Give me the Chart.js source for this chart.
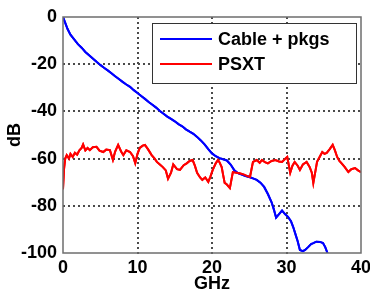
<!DOCTYPE html>
<html>
<head>
<meta charset="utf-8">
<script src="https://cdn.jsdelivr.net/npm/chart.js@4/dist/chart.umd.min.js"></script>
<style>
  html, body { margin: 0; padding: 0; background: #fff; }
  #wrap { width: 370px; height: 295px; }
</style>
</head>
<body>
<div id="wrap"><canvas id="chart" width="370" height="295"></canvas></div>
<script>
// series names
const seriesNames = ["Cable + pkgs", "PSXT"];

// Cable + pkgs (blue): frequency in GHz and loss in dB
const cableGHz = [0, 0.3, 0.6, 1.0, 1.5, 2.0, 2.5, 3, 3.5, 4, 4.5, 5, 5.5, 6, 6.5, 7, 7.5, 8, 8.5, 9, 9.5, 10,
  10.5, 11, 11.5, 12, 12.5, 13, 13.5, 14, 14.5, 15, 15.5, 16, 16.5, 17, 17.5, 18, 18.5, 19, 19.5, 20, 20.5,
  21, 21.5, 22, 22.5, 23, 23.5, 24, 24.5, 25, 25.5, 26, 26.5, 27, 27.5, 28, 28.3, 28.6, 29, 29.4, 29.8,
  30.2, 30.6, 30.9, 31.2, 31.5, 31.8, 32.2, 32.5, 32.9, 33.3, 33.6, 34, 34.5, 34.9, 35.2, 35.5];
const cableDB = [0, -2.5, -5, -7.5, -9.5, -11.5, -13, -14.8, -16.2, -17.6, -19, -20.3, -21.5, -22.6, -23.8,
  -25.1, -26.3, -27.5, -28.6, -29.6, -31, -32.2, -33.5, -34.7, -36, -37.2, -38.4, -39.8, -41, -42.2, -43.2,
  -44.2, -45.4, -46.3, -47.6, -48.6, -49.5, -50.8, -52.3, -54, -56, -57.8, -59, -59.8, -60.3, -60.8, -62.5,
  -65, -66.2, -66.8, -67.4, -67.8, -68.4, -69, -70.2, -72, -75, -78.5, -81.5, -85, -83.5, -82, -83.5,
  -84.7, -86.5, -89, -92, -95, -98.7, -99.2, -98.7, -97.5, -96.2, -95.8, -95.2, -95.3, -95.8, -97.5, -100];

// PSXT (red): frequency in GHz and crosstalk in dB
const psxtGHz = [0, 0.15, 0.3, 0.5, 0.8, 1.0, 1.3, 1.6, 1.9, 2.2, 2.5, 2.7, 3.0, 3.3, 3.6, 4.0, 4.5, 4.9,
  5.4, 5.8, 6.3, 6.7, 7.0, 7.4, 7.8, 8.1, 8.5, 9.0, 9.4, 9.7, 10.0, 10.3, 10.7, 11.0, 11.4, 11.9, 12.3,
  12.6, 13.0, 13.4, 13.8, 14.1, 14.5, 14.8, 15.3, 15.7, 16.2, 16.6, 17.0, 17.4, 17.7, 18.0, 18.4, 18.7,
  19.1, 19.5, 19.8, 20.1, 20.5, 20.8, 21.0, 21.3, 21.5, 21.7, 22.0, 22.4, 22.8, 23.3, 23.8, 24.3, 24.8,
  25.1, 25.5, 26.0, 26.4, 26.7, 27.1, 27.5, 28.0, 28.5, 29.0, 29.4, 29.8, 30.1, 30.5, 30.8, 31.1, 31.5,
  31.8, 32.2, 32.7, 33.1, 33.4, 33.6, 33.9, 34.1, 34.5, 34.8, 35.1, 35.4, 35.8, 36.2, 36.5, 36.8, 37.1,
  37.4, 37.8, 38.3, 38.7, 39.2, 39.6, 40];
const psxtDB = [-73, -64, -60, -58.5, -60, -58, -59.3, -57.5, -58.3, -56.5, -55.5, -54, -56.5, -55.5, -56.4,
  -55.2, -55, -56.6, -57.2, -56.2, -56.4, -60.5, -57, -54.2, -57, -58.5, -56.5, -57.2, -59, -62, -58,
  -55.5, -54.5, -54.2, -56, -58.5, -60, -61.4, -62.5, -63.6, -65, -68.5, -66, -62.5, -64.5, -64.8, -62.8,
  -62, -61, -60.6, -63, -66, -68, -69, -68, -69.9, -67.5, -64.8, -62, -60.6, -61.5, -63.6, -67, -70.3,
  -71, -72.5, -65.7, -66, -66.3, -66.8, -67.5, -67.8, -61.4, -60.6, -61.8, -60.6, -61.5, -62, -61, -60.6,
  -61.2, -61.4, -60.2, -59.3, -66, -63, -61.4, -63, -64.8, -62.5, -61.4, -63.5, -66, -70.3, -65, -61.4,
  -59, -57.2, -58, -57.6, -56, -54.2, -56.5, -59.3, -61, -62, -63.5, -65.7, -64.5, -64, -65, -65.7];

// axis ranges and tick spacing
const xMin = 0, xMax = 40, xStep = 10;
const yMin = -100, yMax = 0, yStep = 20;

function toPoints(xs, ys) {
  return xs.map((x, i) => ({ x: x, y: ys[i] }));
}

const fontFamily = "'Liberation Sans', Arial, sans-serif";

// dotted matlab-style grid at the tick values
function drawDotGrid(chart) {
  const ctx = chart.ctx;
  const a = chart.chartArea;
  const xs = chart.scales.x, ys = chart.scales.y;
  ctx.save();
  ctx.fillStyle = '#4a4a4a';
  for (let v = xMin + xStep; v < xMax; v += xStep) {
    const px = Math.round(xs.getPixelForValue(v));
    for (let y = Math.round(a.top); y < a.bottom; y += 5) {
      ctx.fillRect(px - 1, y, 2, 2);
    }
  }
  for (let v = yMin + yStep; v < yMax; v += yStep) {
    const py = Math.round(ys.getPixelForValue(v));
    for (let x = Math.round(a.left); x < a.right; x += 5) {
      ctx.fillRect(x, py - 1, 2, 2);
    }
  }
  ctx.restore();
}

// grid, then the lines again on top of it, grey box round the plot and the boxed legend
const framePlugin = {
  id: 'frame',
  afterDatasetsDraw(chart) {
    drawDotGrid(chart);
    const ctx = chart.ctx;
    const a = chart.chartArea;

    // put the curves back over the dots
    ctx.save();
    ctx.beginPath();
    ctx.rect(a.left, a.top, a.right - a.left, a.bottom - a.top);
    ctx.clip();
    chart.data.datasets.forEach((ds, i) => {
      chart.getDatasetMeta(i).controller.draw();
    });
    ctx.restore();

    ctx.save();
    ctx.strokeStyle = '#6e6e6e';
    ctx.lineWidth = 1.5;
    ctx.strokeRect(a.left, a.top, a.right - a.left, a.bottom - a.top);

    // legend box
    const bx = 152, by = 23, bw = 204, bh = 60;
    ctx.fillStyle = '#fff';
    ctx.fillRect(bx, by, bw, bh);
    ctx.strokeStyle = '#333';
    ctx.lineWidth = 1;
    ctx.strokeRect(bx + 0.5, by + 0.5, bw, bh);
    ctx.font = 'bold 18px ' + fontFamily;
    ctx.textBaseline = 'middle';
    chart.data.datasets.forEach((ds, i) => {
      const y = by + 16 + i * 25;
      ctx.strokeStyle = ds.borderColor;
      ctx.lineWidth = 2;
      ctx.beginPath();
      ctx.moveTo(bx + 8, y);
      ctx.lineTo(bx + 60, y);
      ctx.stroke();
      ctx.fillStyle = '#000';
      ctx.fillText(ds.label, bx + 66, y + 1);
    });
    ctx.restore();
  }
};

new Chart(document.getElementById('chart'), {
  type: 'line',
  data: {
    datasets: [
      {
        label: seriesNames[0],
        data: toPoints(cableGHz, cableDB),
        borderColor: '#0000ff',
        borderWidth: 2,
        pointRadius: 0,
        tension: 0
      },
      {
        label: seriesNames[1],
        data: toPoints(psxtGHz, psxtDB),
        borderColor: '#ff0000',
        borderWidth: 2,
        pointRadius: 0,
        tension: 0
      }
    ]
  },
  options: {
    responsive: false,
    animation: false,
    events: [],
    layout: { padding: { top: 17, right: 9, bottom: 0, left: 0 } },
    plugins: {
      legend: { display: false },
      tooltip: { enabled: false }
    },
    scales: {
      x: {
        type: 'linear',
        min: xMin,
        max: xMax,
        ticks: {
          stepSize: xStep,
          color: '#000',
          padding: 4,
          maxRotation: 0,
          font: { family: fontFamily, size: 18, weight: 'bold' }
        },
        grid: { display: false, drawTicks: false, tickLength: 0 },
        border: { display: false },
        title: {
          display: true,
          text: 'GHz',
          color: '#000',
          padding: { top: 0, bottom: 0 },
          font: { family: fontFamily, size: 18, weight: 'bold' }
        },
        afterFit(scale) {
          scale.height = 42;
          scale.paddingLeft = 0;
          scale.paddingRight = 0;
        }
      },
      y: {
        type: 'linear',
        min: yMin,
        max: yMax,
        ticks: {
          stepSize: yStep,
          color: '#000',
          padding: 6,
          font: { family: fontFamily, size: 18, weight: 'bold' }
        },
        grid: { display: false, drawTicks: false, tickLength: 0 },
        border: { display: false },
        title: {
          display: true,
          text: 'dB',
          color: '#000',
          padding: { top: 4, bottom: 0 },
          font: { family: fontFamily, size: 18, weight: 'bold' }
        },
        afterFit(scale) {
          scale.width = 63;
          scale.paddingTop = 0;
          scale.paddingBottom = 0;
        }
      }
    }
  },
  plugins: [framePlugin]
});
</script>
</body>
</html>
